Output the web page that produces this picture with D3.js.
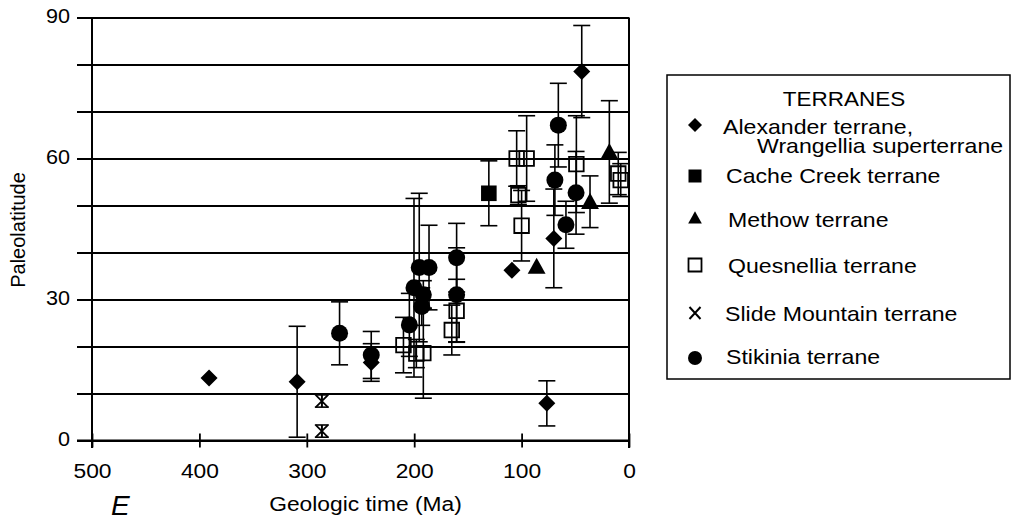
<!DOCTYPE html>
<html><head><meta charset="utf-8">
<script src="https://cdn.jsdelivr.net/npm/d3@7/dist/d3.min.js"></script>
<style>body{margin:0;background:#fff}svg{display:block}text{font-family:"Liberation Sans",Arial,sans-serif;fill:#000}</style>
</head><body><svg id="c" width="1013" height="520"></svg>
<script>
// [age Ma, paleolatitude, error (null = none)]
const alexander = [[391,13.3,null],[309,12.5,11.8],[240,16.6,4],[109,36.2,null],[76.5,7.9,4.8],[70,43,10.5],[44,78.5,9.8]];
const cacheCreek = [[130.5,52.6,6.9]];
const methow = [[86,37,null],[36.3,50.8,5.5],[18.3,61.4,10.9]];
const quesnellia = [[210,20.3,5.9],[198,18.5,3],[191.5,18.6,9.6],[165,23.5,5.3],[160.5,27.6,6.7],[104.6,60,5.9],[95.3,60,9.1],[103,52.2,2],[100,45.7,7.5],[49,58.8,10.3],[10,56.8,4.5],[7.7,55.4,3.5]];
const slideMountain = [[286,8.4,1.3],[286,2.0,1.3]];
const stikinia = [[269.5,22.8,6.7],[240,18.2,5],[204.5,24.6,6.7],[200.2,32.5,19],[195.3,36.8,15.8],[193,28.5,4],[191.5,31,3],[186.2,36.8,9],[160.5,38.9,7.3],[160.5,31,10],[69,55.4,7.5],[65.8,67.1,8.9],[58.7,45.9,5],[49.3,52.7,8.8]];
const xTicks = [500,400,300,200,100,0];
const yLabels = [0,30,60,90];
const yGrid = [0,10,20,30,40,50,60,70,80,90];
const legendNames = [["Alexander terrane,","Wrangellia superterrane"],["Cache Creek terrane"],["Methow terrane"],["Quesnellia terrane"],["Slide Mountain terrane"],["Stikinia terrane"]];

const svg = d3.select("#c");
const x = d3.scaleLinear().domain([500,0]).range([92,629]);
const y = d3.scaleLinear().domain([0,90]).range([440.5,17.5]);
const F = "Liberation Sans, Arial, sans-serif";
function stretch(sel,f){sel.each(function(){const w=this.getComputedTextLength();this.setAttribute("textLength",w*f);this.setAttribute("lengthAdjust","spacingAndGlyphs");});}

// y axis with grid
const ga = svg.append("g").attr("transform","translate(92,0)")
  .call(d3.axisLeft(y).tickValues(yGrid).tickSize(-(629-92)).tickSizeOuter(0).tickFormat(d=>yLabels.includes(d)?d:""));
ga.select(".domain").remove();
ga.selectAll(".tick line").attr("x1",-15).attr("stroke","#000").attr("stroke-width",1.8);
ga.selectAll(".tick text").attr("x",-22).attr("dy",null).attr("y",5).style("font-size","20px").attr("font-family",F);
stretch(ga.selectAll(".tick text"),1.08);

// x axis
const gx = svg.append("g").attr("transform","translate(0,440.5)")
  .call(d3.axisBottom(x).tickValues(xTicks).tickSize(7).tickSizeOuter(0));
gx.select(".domain").remove();
gx.selectAll(".tick line").attr("y1",-7).attr("y2",7).attr("stroke","#000").attr("stroke-width",1.8);
gx.selectAll(".tick text").attr("y",37).attr("dy",null).style("font-size","20px").attr("font-family",F);
stretch(gx.selectAll(".tick text"),1.14);

// frame
svg.append("line").attr("x1",x(500)).attr("x2",x(500)).attr("y1",y(90)).attr("y2",448).attr("stroke","#000").attr("stroke-width",2);
svg.append("line").attr("x1",x(0)).attr("x2",x(0)).attr("y1",y(90)).attr("y2",448).attr("stroke","#000").attr("stroke-width",2);
svg.append("line").attr("x1",77).attr("x2",x(0)).attr("y1",y(0)).attr("y2",y(0)).attr("stroke","#000").attr("stroke-width",2.2);

// titles
const xt = svg.append("text").attr("x",365.5).attr("y",511).attr("text-anchor","middle").style("font-size","20px").text("Geologic time (Ma)");
stretch(xt,1.14);
svg.append("text").attr("transform","translate(25,230) rotate(-90)").attr("text-anchor","middle").style("font-size","20px").text("Paleolatitude");
svg.append("text").attr("x",111).attr("y",515).style("font-size","28px").style("font-style","italic").text("E");

// symbol paths
const sym = {
  diamond:(s)=>`M0,${-s}L${s},0L0,${s}L${-s},0Z`,
  square:(s)=>`M${-s},${-s}H${s}V${s}H${-s}Z`,
  triangle:(s)=>`M0,${-s*1.05}L${s*1.05},${s*0.85}L${-s*1.05},${s*0.85}Z`,
  star:(s)=>`M${-s},${-s}L${s},${s}M${-s},${s}L${s},${-s}M0,${-s}V${s}`
};
const series = [
  {d:alexander,shape:"diamond",size:8.5,fill:"#000",stroke:"none"},
  {d:cacheCreek,shape:"square",size:7.8,fill:"#000",stroke:"none"},
  {d:methow,shape:"triangle",size:8.5,fill:"#000",stroke:"none"},
  {d:quesnellia,shape:"square",size:7.3,fill:"none",stroke:"#000"},
  {d:slideMountain,shape:"star",size:6,fill:"none",stroke:"#000"},
  {d:stikinia,shape:"circle",size:8.5,fill:"#000",stroke:"none"}
];
const eb = svg.append("g").attr("stroke","#000").attr("stroke-width",1.6).attr("fill","none");
series.forEach(s=>{
  s.d.filter(p=>p[2]!=null).forEach(p=>{
    const cx=x(p[0]), t=y(p[1]+p[2]), b=y(p[1]-p[2]);
    const cw = s.shape==="star"?7:8.5;
    eb.append("line").attr("x1",cx).attr("x2",cx).attr("y1",t).attr("y2",b);
    eb.append("line").attr("x1",cx-cw).attr("x2",cx+cw).attr("y1",t).attr("y2",t);
    eb.append("line").attr("x1",cx-cw).attr("x2",cx+cw).attr("y1",b).attr("y2",b);
  });
});
const mk = svg.append("g");
series.forEach(s=>{
  s.d.forEach(p=>{
    if(s.shape==="circle"){
      mk.append("circle").attr("cx",x(p[0])).attr("cy",y(p[1])).attr("r",s.size).attr("fill",s.fill);
    } else {
      mk.append("path").attr("transform",`translate(${x(p[0])},${y(p[1])})`).attr("d",sym[s.shape](s.size))
        .attr("fill",s.fill).attr("stroke",s.stroke).attr("stroke-width",1.8);
    }
  });
});

// legend
const lg = svg.append("g");
lg.append("rect").attr("x",667).attr("y",75).attr("width",343).attr("height",304).attr("fill","none").attr("stroke","#000").attr("stroke-width",1.5);
const lt = lg.append("text").attr("x",844).attr("y",106).attr("text-anchor","middle").style("font-size","21px").text("TERRANES");
stretch(lt,1.07);
const rowsY = [125,176,218,265,313,358];
const textY = [134,183,227,273,321,364];
const textX = [723,726,728,728,725,726];
series.forEach((s,i)=>{
  const cx=695, cy=rowsY[i];
  if(s.shape==="circle") lg.append("circle").attr("cx",cx).attr("cy",cy).attr("r",7).attr("fill","#000");
  else lg.append("path").attr("transform",`translate(${cx},${cy})`).attr("d",s.shape==="star"?`M-5.5,-6L5.5,6M-5.5,6L5.5,-6`:sym[s.shape](s.shape==="diamond"?7:6.5))
    .attr("fill",s.fill).attr("stroke",s.stroke).attr("stroke-width",s.shape==="star"?2:1.8);
  const t = lg.append("text").attr("y",textY[i]).style("font-size","21px");
  legendNames[i].forEach((line,j)=>{
    const ts = t.append("tspan").attr("x",j===0?textX[i]:757).attr("y",textY[i]+j*19).text(line);
    stretch(ts,1.1);
  });
});
</script></body></html>
